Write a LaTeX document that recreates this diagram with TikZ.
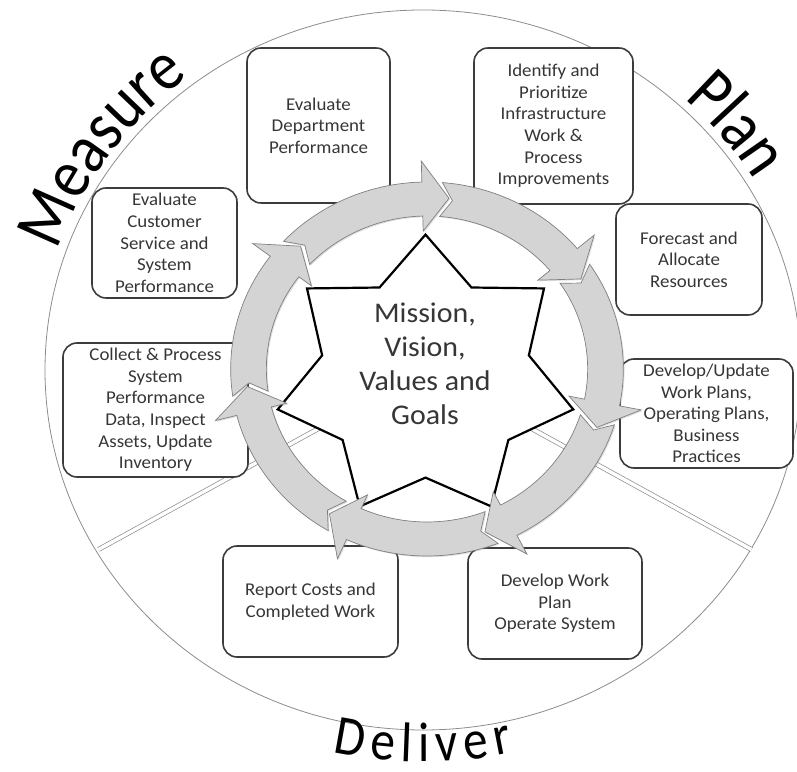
\documentclass[tikz,border=0pt]{standalone}
\usepackage{fontspec}
\setmainfont{Carlito}[FakeStretch=1.05]
\newfontfamily\lblfont{Carlito}[FakeStretch=0.88]
\usetikzlibrary{decorations.text,shadows}
\definecolor{ringfill}{HTML}{D4D4D4}
\definecolor{ringline}{HTML}{808080}
\definecolor{boxline}{HTML}{3C3C3C}
\definecolor{txt}{HTML}{363636}
\definecolor{divline}{HTML}{8C8C8C}
\definecolor{rimline}{HTML}{8C8C8C}
\begin{document}
\begin{tikzpicture}[x=1pt,y=1pt,
  taskbox/.style={draw=boxline, line width=1.6pt, rounded corners=14pt, fill=white,
    text=txt, align=center, font=\fontsize{18}{21.6}\selectfont, inner sep=0pt},
  arrowseg/.style={fill=ringfill, draw=ringline, line width=0.7pt,
    drop shadow={opacity=0.25, shadow xshift=1.2pt, shadow yshift=-1.2pt}},
  divider/.style={draw=divline, line width=0.7pt, double=white, double distance=3.5pt},
  rim/.style={draw=rimline, line width=0.8pt},
  starshape/.style={draw=black, line width=2.2pt, fill=white, line join=miter},
  centertext/.style={font=\fontsize{28.5}{34}\selectfont, text=txt, align=center}
]
\useasboundingbox (0,0) rectangle (797,771);

% outer circle
\begin{scope}[shift={(423,401)}, xscale=1.05]
  \coordinate (rimc) at (0,0);
  \draw[rim] (rimc) circle[radius=360];
\end{scope}

% sector dividers
\begin{scope}[shift={(425,401)}, xscale=1.05]
  \coordinate (hub) at (0,0);
  \coordinate (dtop) at (90:359);
  \coordinate (dleft) at (210:359);
  \coordinate (dright) at (330:359);
  \draw[divider] (hub) -- (dtop);
  \draw[divider] (hub) -- (dleft);
  \draw[divider] (hub) -- (dright);
\end{scope}

% task boxes
\node[taskbox, minimum width=143pt, minimum height=155pt] (evaldept) at (318.5,645.5)
  {Evaluate\\Department\\Performance};
\node[taskbox, minimum width=145pt, minimum height=110pt] (evalcust) at (164.5,528)
  {Evaluate\\Customer\\Service and\\System\\Performance};
\node[taskbox, minimum width=159pt, minimum height=156pt] (identify) at (553.5,645)
  {Identify and\\Prioritize\\Infrastructure\\Work \&\\Process\\Improvements};
\node[taskbox, minimum width=146pt, minimum height=111pt] (forecast) at (689,511.5)
  {Forecast and\\Allocate\\Resources};
\node[taskbox, minimum width=173pt, minimum height=109pt] (update) at (706.5,357.5)
  {Develop/Update\\Work Plans,\\Operating Plans,\\Business\\Practices};
\node[taskbox, minimum width=174pt, minimum height=111pt] (operate) at (555,167.5)
  {Develop Work\\Plan\\Operate System};
\node[taskbox, minimum width=175pt, minimum height=111pt] (report) at (310.5,169.5)
  {Report Costs and\\Completed Work};
\node[taskbox, minimum width=185pt, minimum height=134pt] (collect) at (155.5,361)
  {Collect \& Process\\System\\Performance\\Data, Inspect\\Assets, Update\\Inventory};

% star
\begin{scope}[shift={(425.5,393.4)}, xscale=1.06]
  \draw[starshape] (90:143) -- (64.286:100) -- (38.571:143) -- (12.857:100)
    -- (-12.857:143) -- (-38.571:100) -- (-64.286:143) -- (-90:100)
    -- (-115.714:143) -- (-141.429:100) -- (-167.143:143) -- (167.143:100)
    -- (141.429:143) -- (115.714:100) -- cycle;
\end{scope}

% ring of arrows
\begin{scope}[shift={(427,402)}, xscale=1.05]
  \foreach \k in {0,...,6}{
    \pgfmathsetmacro\T{83-51.4286*\k}
    \pgfmathsetmacro\Ta{\T+51.4286+2.5}
    \pgfmathsetmacro\Tn{\T+51.4286-1.2}
    \pgfmathsetmacro\B{\T+8.5}
    \path[arrowseg] (\Ta:187) arc[start angle=\Ta, end angle=\B, radius=187]
      -- (\B:208) -- (\T:172) -- (\B:138) -- (\B:153)
      arc[start angle=\B, end angle=\Ta, radius=153] -- (\Tn:170) -- cycle;
  }
\end{scope}

% centre text
\node[centertext] (mission) at (425,407) {Mission,\\Vision,\\Values and\\Goals};

% phase labels along the rim
\path[decorate, decoration={text along path,
    text={|\lblfont\fontsize{70}{70}\selectfont|Measure}, text align=center}]
  (423,401) ++(178:386.4 and 368) arc[start angle=178, end angle=111, x radius=386.4, y radius=368];
\path[decorate, decoration={text along path,
    text={|\lblfont\fontsize{70}{70}\selectfont|Plan}, text align=center}]
  (423,401) ++(62:386.4 and 368) arc[start angle=62, end angle=16, x radius=386.4, y radius=368];
\path[decorate, decoration={text along path,
    text={|\lblfont\fontsize{56}{56}\selectfont|Deliver}, text align={fit to path}}]
  (423,401) ++(257.3:411.6 and 392) arc[start angle=257.3, end angle=282.7, x radius=411.6, y radius=392];
\end{tikzpicture}
\end{document}
